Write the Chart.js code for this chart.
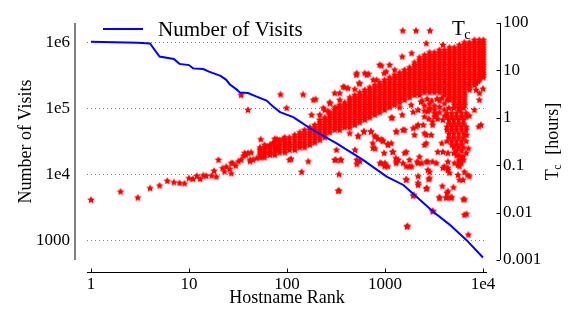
<!DOCTYPE html>
<html>
<head>
<meta charset="utf-8">
<script src="https://cdn.jsdelivr.net/npm/chart.js@4.4.0/dist/chart.umd.min.js"></script>
<style>
html,body{margin:0;padding:0;background:#fff}
#wrap{width:581px;height:323px}
</style>
</head>
<body>
<div id="wrap"><canvas id="chart" width="581" height="323"></canvas></div>
<script>
var FONT = "'Liberation Serif', 'DejaVu Serif', serif"

// blue line: number of visits by hostname rank
var visitRanks = [1, 3, 4, 5, 7, 8, 10, 11, 14, 16, 21, 24, 26, 31, 33, 40, 49, 62, 72, 85, 116, 136, 172, 321, 597, 1040, 1540, 2100, 3110, 4600, 6810, 10000]
var visitCounts = [1.04e6, 1.0e6, 0.98e6, 6.2e5, 5.7e5, 4.8e5, 4.6e5, 4.1e5, 4.0e5, 3.67e5, 3.16e5, 2.75e5, 2.36e5, 1.94e5, 1.76e5, 1.73e5, 1.53e5, 1.33e5, 1.08e5, 8.9e4, 7.5e4, 6.4e4, 5.07e4, 3.0e4, 1.68e4, 9.35e3, 7.0e3, 4.65e3, 2.75e3, 1.74e3, 1.02e3, 557]

// red stars: Tc [hours] by rank, [rank, hours]
var tcLow = [[1,0.0185],[2,0.0276],[3,0.0206],[4,0.0326],[5,0.037],[6,0.0465],[7,0.0435],[8,0.042],[9,0.041],[10,0.053],[11,0.051],[12,0.059],[13,0.051],[14,0.061],[15,0.059],[17,0.06],[18,0.0755],[19,0.057],[20,0.129],[22,0.086],[23,0.073],[24,0.093],[26,0.083],[27,0.067],[27,0.11],[28,0.11],[30,0.097],[32,0.12],[34,0.13],[36,0.156],[37,0.18],[38,0.165],[40,0.18],[42,0.12],[42,0.13],[43,0.185],[45,0.13],[49,0.14],[54,0.35],[55,0.15],[59,0.19],[63,0.245],[67,0.18],[72,0.29],[73,0.29],[78,0.21],[79,0.35],[81,0.245],[75,0.36],[92,0.36]]

// dense band: a rank and the hours stacked at that rank
var tcBand = [
  [53,[0.236,0.209,0.185,0.164,0.145]],
  [59,[0.267,0.236,0.209,0.185,0.164,0.145]],
  [67,[0.267,0.236,0.209,0.185,0.164]],
  [75,[0.30,0.267,0.236,0.209,0.185,0.164]],
  [84,[0.34,0.30,0.267,0.236,0.209,0.185]],
  [95,[0.384,0.34,0.30,0.267,0.236,0.209,0.185]],
  [106,[0.384,0.34,0.30,0.267,0.236,0.209]],
  [120,[0.434,0.384,0.34,0.30,0.267,0.236,0.209]],
  [135,[0.49,0.434,0.384,0.34,0.30,0.267,0.236]],
  [151,[0.553,0.49,0.434,0.384,0.34,0.30,0.267,0.236]],
  [171,[0.624,0.553,0.49,0.434,0.384,0.34,0.30,0.267]],
  [192,[0.705,0.624,0.553,0.49,0.434,0.384,0.34,0.30]],
  [216,[1.15,0.90,0.80,0.705,0.624,0.553,0.49,0.434,0.384,0.34]],
  [243,[1.46,1.01,0.90,0.80,0.705,0.624,0.553,0.49,0.434,0.384]],
  [273,[2.10,1.29,1.15,1.01,0.90,0.80,0.705,0.624,0.553,0.49]],
  [307,[1.65,1.46,1.29,1.15,1.01,0.90,0.80,0.705,0.624,0.553]],
  [345,[2.37,1.86,1.65,1.46,1.29,1.15,1.01,0.90,0.80,0.705,0.624,0.553]],
  [388,[2.10,1.86,1.65,1.46,1.29,1.15,1.01,0.90,0.80,0.705,0.624]],
  [437,[2.68,2.37,2.10,1.86,1.65,1.46,1.29,1.15,1.01,0.90,0.80,0.705,0.624]],
  [491,[3.0,2.68,2.37,2.10,1.86,1.65,1.46,1.29,1.15,1.01,0.90,0.80,0.705]],
  [552,[3.42,3.0,2.68,2.37,2.10,1.86,1.65,1.46,1.29,1.15,1.01,0.90,0.80]],
  [621,[3.86,3.42,3.0,2.68,2.37,2.10,1.86,1.65,1.46,1.29,1.15,1.01,0.90]],
  [698,[4.36,3.86,3.42,3.0,2.68,2.37,2.10,1.86,1.65,1.46,1.29,1.15,1.01]],
  [785,[4.9,4.36,3.86,3.42,3.0,2.68,2.37,2.10,1.86,1.65,1.46,1.29,1.15]],
  [882,[5.56,4.9,4.36,3.86,3.42,3.0,2.68,2.37,2.10,1.86,1.65,1.46,1.29]],
  [992,[6.3,5.56,4.9,4.36,3.86,3.42,3.0,2.68,2.37,2.10,1.86,1.65,1.46]],
  [1115,[7.1,6.3,5.56,4.9,4.36,3.86,3.42,3.0,2.68,2.37,2.10,1.86,1.65]],
  [1254,[8.0,7.1,6.3,5.56,4.9,4.36,3.86,3.42,3.0,2.68,2.37,2.10,1.86]],
  [1410,[9.0,8.0,7.1,6.3,5.56,4.9,4.36,3.86,3.42,3.0,2.68,2.37,2.10]],
  [1585,[10.2,9.0,8.0,7.1,6.3,5.56,4.9,4.36,3.86,3.42,3.0,2.68,2.37]],
  [1782,[11.5,10.2,9.0,8.0,7.1,6.3,5.56,4.9,4.36,3.86,3.42,3.0,2.68]],
  [2004,[14.7,13,11.5,10.2,9.0,8.0,7.1,6.3,5.56,4.9,4.36,3.86,3.42,3.0]],
  [2253,[18.7,16.6,14.7,13,11.5,10.2,9.0,8.0,7.1,6.3,5.56,4.9,4.36,3.86,3.42,3.0]],
  [2533,[21.1,18.7,16.6,14.7,13,11.5,10.2,9.0,8.0,7.1,6.3,5.56,4.9,4.36,3.86,3.42]],
  [2848,[23.9,21.1,18.7,16.6,14.7,13,11.5,10.2,9.0,8.0,7.1,6.3,5.56,4.9,4.36,3.86,3.42]],
  [3202,[23.9,21.1,18.7,16.6,14.7,13,11.5,10.2,9.0,8.0,7.1,6.3,5.56,4.9,4.36,3.86,3.42]],
  [3600,[26.9,23.9,21.1,18.7,16.6,14.7,13,11.5,10.2,9.0,8.0,7.1,6.3,5.56,4.9,4.36,3.86,3.42]],
  [4048,[26.9,23.9,21.1,18.7,16.6,14.7,13,11.5,10.2,9.0,8.0,7.1,6.3,5.56,4.9,4.36,3.86,3.42,3.0]],
  [4551,[30.4,26.9,23.9,21.1,18.7,16.6,14.7,13,11.5,10.2,9.0,8.0,7.1,6.3,5.56,4.9,4.36,3.86,3.42,3.0,2.68,2.37]],
  [5117,[30.4,26.9,23.9,21.1,18.7,16.6,14.7,13,11.5,10.2,9.0,8.0,7.1,6.3,5.56,4.9,4.36,3.86,3.42,3.0,2.68,2.37,2.10,1.86]],
  [5753,[34.4,30.4,26.9,23.9,21.1,18.7,16.6,14.7,13,11.5,10.2,9.0,8.0,7.1,6.3,5.56,4.9,4.36,3.86,3.42,3.0,2.68,2.37,2.10,1.86,1.65,1.46]],
  [6469,[38.8,34.4,30.4,26.9,23.9,21.1,18.7,16.6,14.7,13,11.5,10.2,9.0,8.0,7.1,6.3,5.56,4.9,4.36,3.86,3.42,3.0,2.68,2.37,2.10,1.86]],
  [7273,[38.8,34.4,30.4,26.9,23.9,21.1,18.7,16.6,14.7,13,11.5,10.2,9.0,8.0,7.1,6.3,5.56,4.9,4.36,3.86]],
  [8177,[43.7,38.8,34.4,30.4,26.9,23.9,21.1,18.7,16.6,14.7,13,11.5,10.2,9.0,8.0,7.1,6.3,5.56,4.9]],
  [9194,[43.7,38.8,34.4,30.4,26.9,23.9,21.1,18.7,16.6,14.7,13,11.5,10.2,9.0,8.0,7.1,6.3]],
  [10100,[43.7,38.8,34.4,30.4,26.9,23.9,21.1,18.7,16.6,14.7,13,11.5,10.2,9.0,8.0,7.1]]
]

// spread below the band at high ranks
var tcFan = [[1190,1.0],[1500,1.15],[1940,1.32],[437,0.47],[530,0.41],[610,0.51],[720,0.51],[785,0.40],[750,0.29],[790,0.225],[920,0.35],[1070,0.267],[1160,0.29],[980,0.18],[1200,0.19],[1310,0.51],[1585,0.553],[1370,0.129],[1650,0.19],[2000,0.434],[1940,0.6],[2180,0.705],[2530,0.47],[2640,0.29],[2960,0.434],[2250,0.15],[2130,0.118],[1780,0.094],[2640,0.118],[3350,0.11],[2850,0.072],[2850,0.053],[3460,0.19],[3900,0.19],[4390,0.18],[4050,0.094],[4390,0.087],[4550,0.069],[5560,0.062],[5560,0.101],[6020,0.11],[6470,0.072],[6240,0.049],[7270,0.058],[2180,0.042],[1650,0.05],[2640,0.0315],[3850,0.036],[4290,0.026],[5000,0.034],[3600,0.02],[4200,0.0205],[4700,0.0205],[1940,0.0225],[6300,0.019],[6470,0.0089],[3060,0.0108],[333,0.0285],[307,0.129],[350,0.129],[9050,0.65],[9550,0.705],[515,0.129],[990,0.094],[1070,0.094],[1780,0.129],[7270,1.1],[8500,5.4],[8500,3.86],[10000,4.1],[9200,3.3],[8900,5.8],[8177,1.46],[9194,2.37],[2850,1.46],[3350,1.15],[3900,0.9],[3060,0.705],[950,0.33],[2460,0.705],[3060,0.83],[2100,0.65],[1530,0.553],[2640,0.434],[1070,0.28],[1585,0.18],[2530,0.267],[3800,0.29],[6800,0.434],[7100,0.225],[6240,0.15],[5750,0.129],[920,0.11],[1310,0.12],[1530,0.11],[1650,0.094],[1870,0.094],[2180,0.11],[2370,0.11],[2740,0.118],[3060,0.118],[4390,0.118],[5120,0.11],[5750,0.094],[2740,0.079],[3900,0.087],[4390,0.079],[6950,0.062],[5750,0.049],[1650,0.049],[2180,0.058],[2790,0.05],[2180,0.038],[4390,0.028],[1680,0.005],
  [1410,1.65],[1850,1.86],[2330,2.15],[2180,1.46],[2530,1.05],[2740,1.36],[3200,1.25],[3450,0.95],[2800,0.95],
  [2530,1.8],[2848,2.0],[3202,1.8],[3600,2.3],[4048,2.0],[2848,1.6],[3202,1.5],[3600,1.7],[4048,1.5],[3600,1.3],[4048,1.1],[2533,1.4],[3202,1.05],
  [2400,2.3],[2700,2.5],[3000,2.3],[3400,2.5],[3800,2.6],[4300,2.4],
  [4500,1.6],[5050,1.6],[5650,1.6],[6350,1.6],
  [4290,1.25],[4800,1.25],[5370,1.25],[6020,1.25],[6740,1.25],
  [4290,1.05],[4800,1.05],[5370,1.05],[6020,1.05],[6740,1.05],
  [4500,0.9],[5050,0.9],[5650,0.9],[6350,0.9],
  [4500,0.75],[5050,0.75],[5650,0.75],[6350,0.75],
  [4290,0.64],[4800,0.64],[5370,0.64],[6020,0.64],[6740,0.64],
  [4290,0.55],[4800,0.55],[5370,0.55],[6020,0.55],[6740,0.55],
  [4500,0.46],[5050,0.46],[5650,0.46],[6350,0.46],
  [4500,0.38],[5050,0.38],[5650,0.38],[6350,0.38],
  [4290,0.32],[4800,0.32],[5370,0.32],[6020,0.32],[6740,0.32],
  [4800,0.27],[5370,0.27],[6020,0.27],
  [5050,0.235],[5650,0.235],[6350,0.235],
  [5370,0.2],[6020,0.2],[5650,0.16],
  [5370,0.16],[6020,0.15],[6740,0.18],[5050,0.18],[6350,0.13],[5650,0.12]]

// scattered stars above and below the band
var tcOutliers = [[34,3.0],[40,1.46],[86,3.1],[99,1.6],[146,3.1],[186,2.37],[196,2.45],[235,1.6],[265,1.35],[178,1.15],[275,2.0],[307,3.3],[320,1.6],[345,3.3],[375,4.5],[388,4.4],[420,4.2],[491,4.0],[515,8.7],[552,5.3],[621,8.7],[680,8.4],[760,6.3],[820,6.3],[882,13],[1030,9.4],[1115,13],[1254,10.2],[1500,19.5],[1870,23],[2640,37],[3900,34.4],[510,8.0],[650,8.0],[545,5.3],[920,12.5],[980,8.7],
  [106,0.129],[110,0.135],[141,0.072],[165,0.12],[315,0.129],[320,0.209],[340,0.064],[340,0.029],[356,0.129],[495,0.209],[515,0.105],[555,0.12],[535,0.41],[610,0.51],[720,0.51],[800,0.41],[755,0.23],[850,0.36],[950,0.32],[1160,1.0],[1300,0.51],[1200,0.19],[890,0.11],[1000,0.11],[1300,0.11],[1290,0.14],[1700,0.0052],[6800,0.0093],[7100,0.0034],[6500,0.019],[3100,0.0105],[1970,0.0235],[2670,0.033],[3600,0.021],[4300,0.021],[4800,0.021]]

var xTicks = [1, 10, 100, 1000, 10000]
var xTickLabels = ['1', '10', '100', '1000', '1e4']
var leftTicks = [1000, 1e4, 1e5, 1e6]
var leftTickLabels = ['1000', '1e4', '1e5', '1e6']
var rightTicks = [0.001, 0.01, 0.1, 1, 10, 100]
var rightTickLabels = ['0.001', '0.01', '0.1', '1', '10', '100']

function makeStar(r, color) {
  var s = Math.ceil(r * 2) + 2
  var c = document.createElement('canvas')
  c.width = s
  c.height = s
  var g = c.getContext('2d')
  g.fillStyle = color
  g.beginPath()
  for (var i = 0; i < 10; i++) {
    var rad = i % 2 == 0 ? r : r * 0.5
    var a = -Math.PI / 2 + i * Math.PI / 5
    g.lineTo(s / 2 + rad * Math.cos(a), s / 2 + rad * Math.sin(a))
  }
  g.closePath()
  g.fill()
  return c
}
var star = makeStar(4, '#ff0000')

var visitPoints = visitRanks.map(function (r, i) { return { x: r, y: visitCounts[i] } })
var tcPoints = []
tcLow.concat(tcOutliers).forEach(function (p) { tcPoints.push({ x: p[0], y: p[1] }) })
tcBand.forEach(function (col) {
  col[1].forEach(function (v) { tcPoints.push({ x: col[0], y: v }) })
})
tcFan.forEach(function (p) { tcPoints.push({ x: p[0], y: p[1] }) })

function fixTicks(list) {
  return function (scale) { scale.ticks = list.map(function (v) { return { value: v } }) }
}
function boxSize(w, h) {
  return function (s) {
    if (w) s.width = w
    if (h) s.height = h
    s.paddingTop = 0
    s.paddingBottom = 0
    s.paddingLeft = 0
    s.paddingRight = 0
  }
}

// offset spines, tick marks, legend and right title
var decor = {
  id: 'decor',
  afterDraw: function (chart) {
    var ctx = chart.ctx
    var a = chart.chartArea
    var xs = chart.scales.x
    var yr = chart.scales.y2
    var leftX = a.left - 12, bottomY = a.bottom + 12, rightX = a.right + 13
    ctx.save()
    ctx.strokeStyle = '#808080'
    ctx.lineWidth = 2
    ctx.beginPath(); ctx.moveTo(leftX, a.top); ctx.lineTo(leftX, a.bottom); ctx.stroke()
    ctx.strokeStyle = '#000'
    ctx.lineWidth = 1
    ctx.beginPath(); ctx.moveTo(a.left, bottomY + 0.5); ctx.lineTo(a.right, bottomY + 0.5); ctx.stroke()
    ctx.beginPath(); ctx.moveTo(rightX + 0.5, a.top); ctx.lineTo(rightX + 0.5, a.bottom); ctx.stroke()
    xTicks.forEach(function (v) {
      var px = Math.round(xs.getPixelForValue(v)) + 0.5
      ctx.beginPath(); ctx.moveTo(px, bottomY); ctx.lineTo(px, bottomY - 3.5); ctx.stroke()
    })
    rightTicks.forEach(function (v) {
      var py = Math.round(yr.getPixelForValue(v)) + 0.5
      ctx.beginPath(); ctx.moveTo(rightX, py); ctx.lineTo(rightX - 3.5, py); ctx.stroke()
    })

    // legend
    ctx.strokeStyle = '#0000ff'
    ctx.lineWidth = 2
    ctx.beginPath(); ctx.moveTo(103, 29); ctx.lineTo(143, 29); ctx.stroke()
    ctx.fillStyle = '#000'
    ctx.textBaseline = 'alphabetic'
    ctx.textAlign = 'left'
    ctx.font = '21px ' + FONT
    ctx.fillText('Number of Visits', 158, 35.5)
    ;[402.7, 416, 430].forEach(function (sx) {
      ctx.drawImage(star, sx - star.width / 2, 30.7 - star.height / 2)
    })
    ctx.fillText('T', 452, 35)
    var tw = ctx.measureText('T').width
    ctx.font = '14px ' + FONT
    ctx.fillText('c', 452 + tw - 0.5, 38.5)

    // right axis title, reading upward
    ctx.translate(558, (a.top + a.bottom) / 2)
    ctx.rotate(-Math.PI / 2)
    ctx.font = '18px ' + FONT
    var w1 = ctx.measureText('T').width
    var w3 = ctx.measureText('  [hours]').width
    ctx.font = '12px ' + FONT
    var w2 = ctx.measureText('c').width
    var x0 = -(w1 + w2 + w3) / 2
    ctx.font = '18px ' + FONT
    ctx.fillText('T', x0, 0)
    ctx.fillText('  [hours]', x0 + w1 + w2, 0)
    ctx.font = '12px ' + FONT
    ctx.fillText('c', x0 + w1 - 0.5, 3)
    ctx.restore()
  }
}

new Chart(document.getElementById('chart').getContext('2d'), {
  type: 'scatter',
  data: {
    datasets: [
      {
        type: 'line',
        label: 'Number of Visits',
        data: visitPoints,
        xAxisID: 'x',
        yAxisID: 'y',
        borderColor: '#0000ff',
        borderWidth: 2,
        pointRadius: 0,
        tension: 0,
        fill: false,
        order: 0
      },
      {
        label: 'Tc',
        data: tcPoints,
        xAxisID: 'x',
        yAxisID: 'y2',
        pointStyle: star,
        pointRadius: 4,
        order: 1
      }
    ]
  },
  options: {
    responsive: false,
    animation: false,
    events: [],
    layout: { autoPadding: false, padding: { top: 23, bottom: 0, left: 0, right: 0 } },
    plugins: { legend: { display: false }, tooltip: { enabled: false } },
    scales: {
      x: {
        type: 'logarithmic',
        position: 'bottom',
        min: 0.91,
        max: 11000,
        afterBuildTicks: fixTicks(xTicks),
        afterFit: boxSize(0, 63),
        grid: { display: false, drawTicks: false },
        border: { display: false },
        ticks: {
          padding: 14, color: '#000', autoSkip: false, maxRotation: 0,
          font: { family: FONT, size: 17 },
          callback: function (v, i) { return xTickLabels[i] }
        },
        title: { display: true, text: 'Hostname Rank', color: '#000', font: { family: FONT, size: 18 }, padding: { top: 0, bottom: 14 } }
      },
      y: {
        type: 'logarithmic',
        position: 'left',
        min: 510,
        max: 2.0e6,
        afterBuildTicks: fixTicks(leftTicks),
        afterFit: boxSize(87, 0),
        grid: { display: true, drawTicks: false, color: 'rgba(0,0,0,0.5)', lineWidth: 1 },
        border: { display: false, dash: [1, 3] },
        ticks: {
          padding: 17, color: '#000',
          font: { family: FONT, size: 17 },
          callback: function (v, i) { return leftTickLabels[i] }
        },
        title: { display: true, text: 'Number of Visits', color: '#000', font: { family: FONT, size: 18 }, padding: { top: 15, bottom: 0 } }
      },
      y2: {
        type: 'logarithmic',
        position: 'right',
        min: 0.001,
        max: 100,
        afterBuildTicks: fixTicks(rightTicks),
        afterFit: boxSize(94, 0),
        grid: { display: false, drawTicks: false },
        border: { display: false },
        ticks: {
          padding: 16, color: '#000',
          font: { family: FONT, size: 17 },
          callback: function (v, i) { return rightTickLabels[i] }
        }
      }
    }
  },
  plugins: [decor]
})
</script>
</body>
</html>
